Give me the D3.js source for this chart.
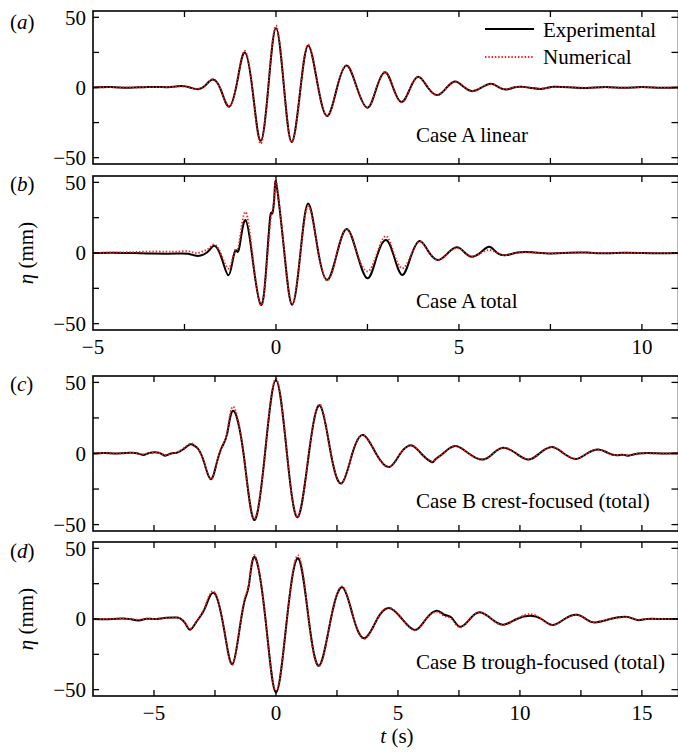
<!DOCTYPE html>
<html><head><meta charset="utf-8">
<script src="https://cdn.jsdelivr.net/npm/d3@7"></script>
<style>
body{margin:0;background:#fff;}
svg text{font-family:"Liberation Serif","Times New Roman",Times,"DejaVu Serif",serif;}
</style></head>
<body><svg id="c" width="678" height="754"></svg>
<script>
// ---------------- DATA ----------------
const xDomainAB = [-5, 11];
const xDomainCD = [-7.5, 16.5];
const yDomain = [-54.5, 54.5];
const xTickLabelsAB = [-5, 0, 5, 10];
const xTickLabelsCD = [-5, 0, 5, 10, 15];
const yTickLabels = [-50, 0, 50];
const seriesNames = ["Experimental", "Numerical"];
const caseLabels = ["Case A linear", "Case A total", "Case B crest-focused (total)", "Case B trough-focused (total)"];
const panelLetters = ["a", "b", "c", "d"];

// Panel (a): Case A linear
const tA = [-5,-4.5,-4,-3.5,-3,-2.8,-2.57,-2.35,-2.13,-1.93,-1.72,-1.5,-1.28,-1.06,-0.85,-0.63,-0.42,-0.21,0,0.22,0.43,0.66,0.88,1.14,1.40,1.66,1.93,2.21,2.50,2.74,2.98,3.2,3.43,3.66,3.89,4.15,4.41,4.65,4.89,5.13,5.37,5.62,5.87,6.08,6.30,6.5,6.71,6.97,7.23,7.45,7.6,8,8.5,9,9.5,10,10.5,11];
const expA = [0,0.3,-0.2,0.4,0.2,0.5,1,0,-1.2,1.5,5.7,-2,-13.7,4,25,-4,-38,0,42.3,0,-38.8,-3,30,2,-20.3,-1,15.6,0,-14.4,-1,10.9,0,-10.4,-1,7.6,0,-5.4,-0.5,4.3,0.5,-2.6,0,2.6,0.3,-1.4,0,0.5,-0.3,-1,0,0.5,0.2,-0.3,0.3,-0.2,0.3,-0.2,0];
const numA = [0,0.2,0,0.3,0.3,0.5,0.8,0,-1,1.5,6,-2,-13.5,4,26,-4,-40,0,44,0,-39,-3,30.5,2,-20.5,-1,15.8,0,-14.4,-1,11,0,-10.5,-1,7.6,0,-5.4,-0.5,4.3,0.5,-2.6,0,2.5,0.3,-1.3,0,0.4,-0.2,-0.8,0,0.3,0.2,-0.2,0.2,-0.1,0.2,-0.1,0];

// Panel (b): Case A total
const tB = [-5,-4.5,-4,-3.5,-3,-2.7,-2.4,-2.17,-1.97,-1.82,-1.67,-1.48,-1.30,-1.18,-1.09,-1.0,-0.83,-0.62,-0.41,-0.27,-0.16,-0.1,-0.04,0.02,0.23,0.44,0.66,0.88,1.14,1.40,1.66,1.93,2.21,2.50,2.75,3.0,3.22,3.45,3.68,3.92,4.17,4.43,4.68,4.94,5.15,5.35,5.6,5.83,6.05,6.30,6.6,7,7.5,8,8.5,9,9.5,10,10.5,11];
const expB = [0,0.2,0,-0.3,-0.5,-0.4,-0.6,-2,-1,2,5,-4,-15.8,-5,2,4,23.3,-8,-36.7,-12,25,28,42,47.5,0,-36.7,-2,35,3,-19,-1,17,0,-17.9,-3,9.2,-2,-15.5,-3,8.5,1,-5,-0.5,4,0.5,-2.6,0.5,4.5,0,-1.5,0.3,0.5,-0.3,0.2,0.3,-0.2,0.2,0,-0.2,0];
const numB = [0,0.3,0.6,1,1,1,1.2,0,1.5,3.5,6,-2,-11,-3,3,8,29,-6,-37,-14,20,30,42,49,0,-36,-2,33,3,-19.5,-1,17,0,-13,-1,12,0,-10.8,-2,8,1,-5,-0.5,3.5,0.5,-2.5,0,2,0,-1.5,0.2,0.3,-0.2,0.1,0.2,-0.1,0.1,0,-0.1,0];

// Panel (c): Case B crest-focused (total)
const tC = [-7.5,-7,-6.5,-6,-5.7,-5.44,-5.2,-4.8,-4.55,-4.3,-4.07,-3.8,-3.52,-3.35,-3.18,-2.95,-2.68,-2.45,-2.23,-2.0,-1.75,-1.33,-0.90,-0.45,0,0.45,0.89,1.35,1.80,2.25,2.69,3.13,3.58,4.1,4.64,5.1,5.56,5.95,6.38,6.52,6.85,7.34,7.9,8.47,8.9,9.34,9.85,10.34,10.8,11.30,11.8,12.3,12.75,13.21,13.6,13.96,14.2,14.45,14.86,15.5,16,16.5];
const expC = [0,0.3,0,0.5,0.2,-1,0.3,0.5,-1.5,0,0.5,3,6.4,5.5,3,-6,-18,-8,4,14,30,0,-46.7,0,51.6,0,-44.8,0,33.8,0,-21,0,13,0,-9.5,0,5.7,0,-6,-4.3,0,5.2,0,-4.3,0,4,0,-4.3,0,4.5,0,-3.8,0,2.8,0.5,-1.3,-0.8,-1.5,0,0.2,0,0.1];
const numC = [0,0.2,0,0.4,0.2,-0.5,0.3,0.4,-1,0,0.8,3.5,7,6,3,-6,-18,-8,4,15,33,0,-46,0,52.5,0,-44.5,0,34.5,0,-21,0,13,0,-9.5,0,5.8,0,-5.5,-4.5,0,5.2,0,-4.3,0,4,0,-4.3,0,4.5,0,-3.8,0,2.8,0.5,-1.2,-0.8,-1.2,0,0.1,0,0];

// Panel (d): Case B trough-focused (total)
const tD = [-7.5,-7,-6.5,-6,-5.64,-5.3,-5,-4.5,-4.1,-3.93,-3.72,-3.52,-3.3,-3.11,-2.9,-2.70,-2.43,-2.1,-1.79,-1.5,-1.27,-1.1,-0.86,-0.43,0,0.45,0.91,1.34,1.77,2.25,2.73,3.19,3.65,4.15,4.64,5.17,5.70,6.15,6.59,6.9,7.2,7.54,7.95,8.36,8.84,9.32,9.87,10.41,10.88,11.34,11.83,12.32,12.7,13.07,13.7,14.3,14.6,14.85,15.2,15.8,16.5];
const expD = [0,-0.2,0.2,0,-1,0.2,0,0.8,1,0.5,-3,-7.6,-3,1.6,8,16.5,15.5,-10,-32,-8,14,25,43.7,0,-52,0,43,0,-33,0,22.4,0,-13.5,0,7.8,0,-7.8,0,5.9,3,1,-5.5,0,4.7,0,-4,0,2.3,0,-4.3,0,3,0,-2.4,0,1.6,0.5,-0.8,0,0,0];
const numD = [0,0,0.2,0,-0.5,0.2,0,0.8,1,0.5,-3,-7,-3,2,9,18,16,-10,-32.5,-8,15,26,45,0,-51,0,45,0,-33.5,0,23,0,-14,0,8,0,-8,0,5,2,0,-6,0,4.7,0,-4.3,0,3.5,0,-4.3,0,3,0,-2.4,0,1.3,0.5,-0.5,0,0,0];

// ---------------- LAYOUT ----------------
const svg = d3.select("#c");
const L = 93, R = 678.5;
const panels = [
  {top: 11,  bottom: 164, t: tA, exp: expA, num: numA, xd: xDomainAB, xl: null,          lab: caseLabels[0], labY: 142, letY: 29},
  {top: 176, bottom: 330, t: tB, exp: expB, num: numB, xd: xDomainAB, xl: xTickLabelsAB, lab: caseLabels[1], labY: 308, letY: 191},
  {top: 376, bottom: 531, t: tC, exp: expC, num: numC, xd: xDomainCD, xl: null,          lab: caseLabels[2], labY: 508, letY: 391},
  {top: 542, bottom: 696, t: tD, exp: expD, num: numD, xd: xDomainCD, xl: xTickLabelsCD, lab: caseLabels[3], labY: 669, letY: 558}
];
const FS = 21, TL = 6;

panels.forEach((p, i) => {
  const x = d3.scaleLinear().domain(p.xd).range([L, R]);
  const y = d3.scaleLinear().domain(yDomain).range([p.bottom, p.top]);
  const g = svg.append("g");
  const cid = "clip" + i;
  svg.append("clipPath").attr("id", cid).append("rect")
    .attr("x", L).attr("y", p.top).attr("width", R - L).attr("height", p.bottom - p.top);

  const line = d3.line().x(d => x(d[0])).y(d => y(d[1])).curve(d3.curveNatural);
  const expPts = p.t.map((t, k) => [t, p.exp[k]]);
  const numPts = p.t.map((t, k) => [t, p.num[k]]);
  const lg = g.append("g").attr("clip-path", `url(#${cid})`);
  lg.append("path").attr("d", line(expPts)).attr("fill", "none")
    .attr("stroke", "#000").attr("stroke-width", 2).attr("stroke-linejoin", "round");
  lg.append("path").attr("d", line(numPts)).attr("fill", "none")
    .attr("stroke", "#ff1a1a").attr("stroke-width", 1.8).attr("stroke-dasharray", "1.4,1.9");

  // ticks
  const xMinor = d3.range(p.xd[0], p.xd[1] + 0.001, 2.5).filter(v => v > p.xd[0] + 0.01 && v < p.xd[1] - 0.01);
  const yMinor = [-50, -25, 0, 25, 50];
  const tg = g.append("g").attr("stroke", "#000").attr("stroke-width", 1.3);
  xMinor.forEach(v => {
    tg.append("line").attr("x1", x(v)).attr("x2", x(v)).attr("y1", p.bottom).attr("y2", p.bottom - TL);
    tg.append("line").attr("x1", x(v)).attr("x2", x(v)).attr("y1", p.top).attr("y2", p.top + TL);
  });
  yMinor.forEach(v => {
    tg.append("line").attr("x1", L).attr("x2", L + TL).attr("y1", y(v)).attr("y2", y(v));
    tg.append("line").attr("x1", R - 0.5).attr("x2", R - TL - 1).attr("y1", y(v)).attr("y2", y(v));
  });

  // frame
  g.append("rect").attr("x", L).attr("y", p.top).attr("width", R - L).attr("height", p.bottom - p.top)
    .attr("fill", "none").attr("stroke", "#000").attr("stroke-width", 1.6);

  // y labels
  const fmt = d3.format("d");
  yTickLabels.forEach(v => {
    g.append("text").attr("x", 86).attr("y", y(v)).attr("dy", "0.35em")
      .attr("text-anchor", "end").attr("font-size", FS).text(fmt(v));
  });
  // x labels
  if (p.xl) {
    p.xl.forEach(v => {
      g.append("text").attr("x", x(v)).attr("y", p.bottom + 24)
        .attr("text-anchor", "middle").attr("font-size", FS).text(fmt(v));
    });
  }
  // case label
  g.append("text").attr("x", 416).attr("y", p.labY).attr("font-size", FS).text(p.lab);
  // panel letter
  const pl = g.append("text").attr("x", 10).attr("y", p.letY).attr("font-size", FS);
  pl.append("tspan").text("(");
  pl.append("tspan").attr("font-style", "italic").text(panelLetters[i]);
  pl.append("tspan").text(")");
});

// legend
const lgd = svg.append("g");
lgd.append("line").attr("x1", 485).attr("x2", 534).attr("y1", 29).attr("y2", 29)
  .attr("stroke", "#000").attr("stroke-width", 2);
lgd.append("text").attr("x", 543).attr("y", 37).attr("font-size", FS).text(seriesNames[0]);
lgd.append("line").attr("x1", 485).attr("x2", 534).attr("y1", 57).attr("y2", 57)
  .attr("stroke", "#ff1a1a").attr("stroke-width", 1.8).attr("stroke-dasharray", "1.4,1.9");
lgd.append("text").attr("x", 543).attr("y", 64).attr("font-size", FS).text(seriesNames[1]);

// axis titles
[ (176 + 330) / 2, (542 + 696) / 2 ].forEach(cy => {
  const t = svg.append("text").attr("transform", `translate(33,${cy}) rotate(-90)`)
    .attr("text-anchor", "middle").attr("font-size", FS);
  t.append("tspan").attr("font-style", "italic").text("η");
  t.append("tspan").text(" (mm)");
});
const xt = svg.append("text").attr("x", 397).attr("y", 743).attr("text-anchor", "middle").attr("font-size", FS);
xt.append("tspan").attr("font-style", "italic").text("t");
xt.append("tspan").text(" (s)");
</script></body></html>
